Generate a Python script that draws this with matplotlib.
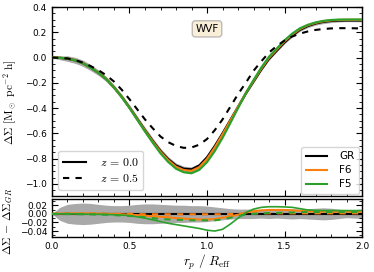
import numpy as np
import matplotlib
matplotlib.use("Agg")
import matplotlib.pyplot as plt
from matplotlib.ticker import MultipleLocator
from matplotlib.lines import Line2D

# ---------------- data ----------------
r_p = np.round(np.arange(0, 2.0001, 0.05), 2)

gr_z0 = [0.000, -0.002, -0.008, -0.022, -0.045, -0.080, -0.120, -0.170, -0.235, -0.310,
         -0.395, -0.485, -0.575, -0.660, -0.740, -0.805, -0.855, -0.880, -0.885, -0.855,
         -0.790, -0.700, -0.600, -0.495, -0.390, -0.285, -0.190, -0.095, -0.010, 0.055,
         0.120, 0.175, 0.220, 0.250, 0.270, 0.283, 0.290, 0.293, 0.294, 0.294, 0.294]

gr_z05 = [0.000, -0.002, -0.007, -0.020, -0.040, -0.068, -0.100, -0.140, -0.190, -0.255,
          -0.330, -0.410, -0.490, -0.560, -0.625, -0.670, -0.700, -0.715, -0.712, -0.690,
          -0.645, -0.575, -0.490, -0.390, -0.290, -0.200, -0.105, -0.030, 0.040, 0.092,
          0.135, 0.167, 0.190, 0.207, 0.219, 0.226, 0.231, 0.233, 0.233, 0.232, 0.230]

# differences relative to GR
d_f6_z0 = [0.0, 0.0005, 0.001, 0.001, 0.001, 0.001, 0.0005, 0.0, -0.0005, -0.001,
           -0.002, -0.003, -0.004, -0.006, -0.007, -0.008, -0.010, -0.011, -0.012, -0.013,
           -0.013, -0.012, -0.009, -0.006, -0.002, 0.003, 0.006, 0.008, 0.009, 0.009,
           0.009, 0.008, 0.007, 0.006, 0.005, 0.005, 0.005, 0.005, 0.005, 0.005, 0.005]

d_f5_z0 = [0.0, 0.0, 0.0, 0.0, -0.0005, -0.001, -0.001, -0.0015, -0.002, -0.003,
           -0.004, -0.007, -0.010, -0.014, -0.018, -0.022, -0.025, -0.028, -0.031, -0.034,
           -0.038, -0.040, -0.036, -0.024, -0.010, 0.003, 0.011, 0.015, 0.0165, 0.0165,
           0.016, 0.015, 0.012, 0.009, 0.008, 0.0075, 0.0075, 0.0075, 0.0075, 0.0075, 0.0075]

d_f6_z05 = [0.0, 0.0, 0.0, 0.0, 0.0, 0.0, 0.0, 0.0, 0.0, 0.0,
            0.0, -0.0005, -0.001, -0.001, -0.001, -0.001, -0.001, -0.001, -0.001, -0.001,
            -0.001, -0.001, -0.001, -0.0005, 0.0, 0.0005, 0.001, 0.001, 0.001, 0.001,
            0.001, 0.001, 0.001, 0.001, 0.001, 0.001, 0.001, 0.001, 0.001, 0.001, 0.001]

d_f5_z05 = [0.0, 0.0, 0.0, -0.0005, -0.001, -0.001, -0.002, -0.002, -0.003, -0.004,
            -0.005, -0.006, -0.008, -0.010, -0.012, -0.013, -0.014, -0.014, -0.015, -0.015,
            -0.015, -0.015, -0.013, -0.009, -0.005, -0.002, 0.0, 0.001, 0.002, 0.002,
            0.003, 0.003, 0.004, 0.004, 0.004, 0.004, 0.004, 0.004, 0.004, 0.004, 0.004]

# GR scatter band half-width
band = [0.0, 0.015, 0.022, 0.024, 0.025, 0.024, 0.022, 0.020, 0.019, 0.019,
        0.020, 0.022, 0.023, 0.023, 0.022, 0.021, 0.020, 0.020, 0.019, 0.019,
        0.018, 0.016, 0.014, 0.012, 0.011, 0.011, 0.011, 0.010, 0.011, 0.010,
        0.011, 0.012, 0.011, 0.012, 0.013, 0.014, 0.013, 0.011, 0.009, 0.010, 0.011]

label_text = "WVF"

# ---------------- plot ----------------
plt.rcParams['mathtext.fontset'] = 'cm'
plt.rcParams['font.family'] = ['DejaVu Sans']

gr_z0 = np.array(gr_z0); gr_z05 = np.array(gr_z05)
band = np.array(band)
d_f6_z0 = np.array(d_f6_z0); d_f5_z0 = np.array(d_f5_z0)
d_f6_z05 = np.array(d_f6_z05); d_f5_z05 = np.array(d_f5_z05)

C_GR, C_F6, C_F5 = 'black', '#ff7f0e', '#2ca02c'
fs = 6.5
DASH = (0, (3, 3))

fig = plt.figure(figsize=(3.74, 2.72), dpi=100)
gs = fig.add_gridspec(2, 1, height_ratios=[5, 1], hspace=0.02,
                      left=0.139, right=0.968, top=0.974, bottom=0.130)
ax = fig.add_subplot(gs[0])
axr = fig.add_subplot(gs[1], sharex=ax)

# top panel
ax.fill_between(r_p, gr_z0 - band, gr_z0 + band, color='darkgray', lw=0, zorder=1)
ax.plot(r_p, gr_z0, color=C_GR, lw=1.6, zorder=3)
ax.plot(r_p, gr_z0 + d_f6_z0, color=C_F6, lw=1.6, zorder=4)
ax.plot(r_p, gr_z0 + d_f5_z0, color=C_F5, lw=1.6, zorder=5)
ax.plot(r_p, gr_z05, color=C_GR, lw=1.5, ls=DASH, zorder=6)

ax.set_xlim(0, 2.0)
ax.set_ylim(-1.1, 0.4)
ax.set_ylabel(r'$\Delta\Sigma\ [{\rm M_\odot\ pc^{-2}\ h}]$', fontsize=8.3)
ax.yaxis.set_label_coords(-0.108, 0.5)

h1 = [Line2D([], [], color='black', lw=1.5),
      Line2D([], [], color='black', lw=1.5, ls=DASH)]
leg1 = ax.legend(h1, [r'$z\, =\, 0.0$', r'$z\, =\, 0.5$'], loc='lower left',
                 fontsize=8.5, handlelength=1.9, handletextpad=1.2,
                 borderpad=0.4, labelspacing=0.3, borderaxespad=0.55,
                 edgecolor='0.8')
ax.add_artist(leg1)
h2 = [Line2D([], [], color=C_GR, lw=1.5),
      Line2D([], [], color=C_F6, lw=1.5),
      Line2D([], [], color=C_F5, lw=1.5)]
ax.legend(h2, ['GR', 'F6', 'F5'], loc='lower right', fontsize=7.5,
          handlelength=2.0, handletextpad=1.2, borderpad=0.45, labelspacing=0.38,
          borderaxespad=0.25, edgecolor='0.8')

ax.text(0.5, 0.885, label_text, transform=ax.transAxes, ha='center', va='center',
        fontsize=7.5,
        bbox=dict(boxstyle='round,pad=0.3', facecolor='wheat', alpha=0.5, edgecolor='gray'))

# bottom panel
axr.fill_between(r_p, -band, band, color='darkgray', lw=0, zorder=1)
axr.plot(r_p, np.zeros_like(r_p), color=C_GR, lw=1.5, zorder=2)
axr.plot(r_p, np.zeros_like(r_p), color=C_GR, lw=1.5, ls=DASH, zorder=3)
axr.plot(r_p, d_f6_z0, color=C_F6, lw=1.5, zorder=4)
axr.plot(r_p, d_f6_z05, color=C_F6, lw=1.5, ls=DASH, zorder=5)
axr.plot(r_p, d_f5_z0, color=C_F5, lw=1.2, zorder=6)
axr.plot(r_p, d_f5_z05, color=C_F5, lw=1.5, ls=DASH, zorder=7)
axr.set_ylim(-0.053, 0.035)
axr.set_ylabel(r'$\Delta\Sigma\, -\, \Delta\Sigma_{GR}$', fontsize=8.3)
axr.yaxis.set_label_coords(-0.118, 0.4)
axr.set_xlabel(r'$r_p\ /\ R_{\rm eff}$', fontsize=9.5, labelpad=2)

for a in (ax, axr):
    a.xaxis.set_major_locator(MultipleLocator(0.5))
    a.xaxis.set_minor_locator(MultipleLocator(0.1))
    a.tick_params(which='both', direction='in', top=True, right=True, labelsize=fs)
    a.tick_params(which='major', length=4, width=0.8)
    a.tick_params(which='minor', length=2, width=0.6)
    for s in a.spines.values():
        s.set_linewidth(1.0)
ax.yaxis.set_major_locator(MultipleLocator(0.2))
ax.yaxis.set_minor_locator(MultipleLocator(0.05))
axr.yaxis.set_major_locator(MultipleLocator(0.02))
axr.yaxis.set_minor_locator(MultipleLocator(0.01))
plt.setp(ax.get_xticklabels(), visible=False)

fig.savefig('out.png', dpi=100)
